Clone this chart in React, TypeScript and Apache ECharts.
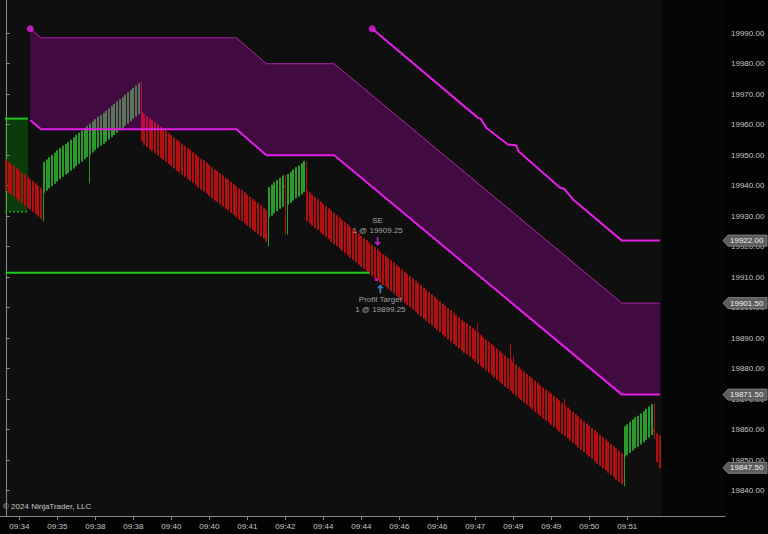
import React, { useEffect, useRef } from 'react';
import * as echarts from 'echarts';

// ---- time axis (tick labels sit on every 14th bar, starting at bar 5)
const xTickLabels = ['09:34', '09:35', '09:38', '09:38', '09:40', '09:40', '09:41', '09:42', '09:44', '09:44', '09:46', '09:46', '09:47', '09:49', '09:49', '09:50', '09:51'];
const firstTickBar = 5;
const barsPerTick = 14;

// ---- price axis ticks
const yTicks = [19840, 19850, 19860, 19870, 19880, 19890, 19900, 19910, 19920, 19930, 19940, 19950, 19960, 19970, 19980, 19990];

// ---- range bars as [open, close], by leg
const legDown1 = [[19948.5, 19938.5], [19947.75, 19937.75], [19947, 19937.25], [19946.5, 19936.5], [19945.75, 19935.75], [19945, 19935], [19944.25, 19934.25], [19943.5, 19933.5], [19942.75, 19932.75], [19942, 19932.25], [19941.5, 19931.5], [19940.75, 19930.75], [19940, 19930], [19939.25, 19929.25]];
const legUp1 = [
  [19937.75, 19947.75], [19938.5, 19948.5], [19939.25, 19949.25], [19940, 19950], [19940.75, 19950.75], [19941.5, 19951.5], [19942.25, 19952.25], [19943, 19953], [19943.75, 19953.5], [19944.25, 19954.25],
  [19945, 19955], [19945.75, 19955.75], [19946.5, 19956.5], [19947.25, 19957.25], [19948, 19958], [19948.75, 19958.75], [19949.5, 19959.5], [19950.25, 19960.25], [19951, 19961], [19951.75, 19961.75],
  [19952.5, 19962.5], [19953.25, 19963], [19953.75, 19963.75], [19954.5, 19964.5], [19955.25, 19965.25], [19956, 19966], [19956.75, 19966.75], [19957.5, 19967.5], [19958.25, 19968.25], [19959, 19969],
  [19959.75, 19969.75], [19960.5, 19970.5], [19961.25, 19971.25], [19962, 19972], [19962.75, 19972.75], [19963.5, 19973.5]];
const legDown2 = [
  [19964.25, 19954.75], [19963.5, 19953.5], [19962.75, 19952.75], [19962, 19952], [19961.5, 19951.5], [19960.75, 19950.75], [19960, 19950], [19959.25, 19949.25], [19958.5, 19948.5], [19958, 19948],
  [19957.25, 19947.25], [19956.5, 19946.5], [19955.75, 19945.75], [19955, 19945], [19954.5, 19944.5], [19953.75, 19943.75], [19953, 19943], [19952.25, 19942.25], [19951.75, 19941.75], [19951, 19941],
  [19950.25, 19940.25], [19949.5, 19939.5], [19948.75, 19938.75], [19948.25, 19938.25], [19947.5, 19937.5], [19946.75, 19936.75], [19946, 19936], [19945.25, 19935.25], [19944.75, 19934.75], [19944, 19934],
  [19943.25, 19933.25], [19942.5, 19932.5], [19942, 19932], [19941.25, 19931.25], [19940.5, 19930.5], [19939.75, 19929.75], [19939, 19929], [19938.5, 19928.5], [19937.75, 19927.75], [19937, 19927],
  [19936.25, 19926.25], [19935.5, 19925.5], [19935, 19925], [19934.25, 19924.25], [19933.5, 19923.5], [19932.75, 19922.75], [19932, 19921.75]];
const legUp2 = [[19929.75, 19939.5], [19930.25, 19940.25], [19931, 19941], [19931.75, 19941.75], [19932.5, 19942.5], [19933.25, 19943.25], [19940, 19939.5], [19933.75, 19943.75], [19934.5, 19944.5], [19935.25, 19945.25], [19936, 19946], [19936.5, 19946.5], [19937.25, 19947.25], [19938, 19948]];
const legDown3 = [
  [19938.5, 19928.5], [19937.75, 19927.75], [19937, 19927], [19936.25, 19926.25], [19935.5, 19925.5], [19934.75, 19924.75], [19934, 19924], [19933.25, 19923.25], [19932.5, 19922.5], [19931.75, 19921.75],
  [19931, 19921], [19930.25, 19920.25], [19929.5, 19919.5], [19928.75, 19918.75], [19928, 19918], [19927.25, 19917.25], [19926.5, 19916.5], [19925.75, 19915.75], [19925, 19915], [19924.25, 19914.25],
  [19923.5, 19913.5], [19922.75, 19912.75], [19922, 19912], [19921.25, 19911.25], [19920.5, 19910.5], [19919.75, 19909.75], [19919, 19909], [19918.25, 19908.25], [19917.5, 19907.5], [19917, 19907],
  [19916.25, 19906.25], [19915.5, 19905.5], [19914.75, 19904.75], [19914, 19904], [19913.25, 19903.25], [19912.5, 19902.5], [19911.75, 19901.75], [19911, 19901], [19910.25, 19900.25], [19909.5, 19899.5],
  [19908.75, 19898.75], [19908, 19898], [19907.25, 19897.25], [19906.5, 19896.5], [19905.75, 19895.75], [19905, 19895], [19904.25, 19894.25], [19903.5, 19893.5], [19902.75, 19892.75], [19902, 19892],
  [19901.25, 19891.25], [19900.5, 19890.5], [19899.75, 19889.75], [19899, 19889], [19898.25, 19888.25], [19897.5, 19887.5], [19896.75, 19886.75], [19896, 19886], [19895.25, 19885.25], [19894.75, 19884.75],
  [19894, 19884], [19893.25, 19883.25], [19892.5, 19882.5], [19891.75, 19881.75], [19891, 19881], [19890.25, 19880.25], [19889.5, 19879.5], [19888.75, 19878.75], [19888, 19878], [19887.25, 19877.25],
  [19886.5, 19876.5], [19885.75, 19875.75], [19885, 19875], [19884.25, 19874.25], [19883.5, 19873.5], [19882.75, 19872.75], [19882, 19872], [19881.25, 19871.25], [19880.5, 19870.5], [19879.75, 19869.75],
  [19879, 19869], [19878.25, 19868.25], [19877.5, 19867.5], [19876.75, 19866.75], [19876, 19866], [19875.25, 19865.25], [19874.5, 19864.5], [19873.75, 19863.75], [19873, 19863], [19872.5, 19862.5],
  [19871.75, 19861.75], [19871, 19861], [19870.25, 19860.25], [19869.5, 19859.5], [19868.75, 19858.75], [19868, 19858], [19867.25, 19857.25], [19866.5, 19856.5], [19865.75, 19855.75], [19865, 19855],
  [19864.25, 19854.25], [19863.5, 19853.5], [19862.75, 19852.75], [19862, 19852], [19861.25, 19851.25], [19860.5, 19850.5], [19859.75, 19849.75], [19859, 19849], [19858.25, 19848.25], [19857.5, 19847.5],
  [19856.75, 19846.75], [19856, 19846], [19855.25, 19845.25], [19854.5, 19844.5], [19853.75, 19843.75], [19853, 19843], [19852.25, 19842.25]];
const legUp3 = [[19851.25, 19861], [19851.75, 19861.75], [19852.5, 19862.5], [19853.25, 19863.25], [19854, 19864], [19854.5, 19864.5], [19855.25, 19865.25], [19856, 19866], [19856.75, 19866.75], [19857.5, 19867.5], [19858.25, 19868.25]];
const legDown4 = [[19860, 19859.25], [19858.75, 19849.5], [19858, 19847.5]];

// ---- wicks beyond the body: [bar, low, high]
const wicks = [
  [14, 19928.25, 19947.75], [31, 19940.75, 19960.25], [50, 19954.75, 19974.25], [97, 19920, 19939.5],
  [103, 19924, 19943.5], [104, 19924, 19943.75], [111, 19928.5, 19947.75], [174, 19881.75, 19895],
  [186, 19872.75, 19888.25], [187, 19872, 19884.25], [206, 19858, 19870.25], [228, 19841.5, 19861], [239, 19857, 19868.5]];

// ---- indicator lines [bar, price]
const lowerBand = [[9, 19961.5], [13, 19958.5], [85, 19958.5], [96, 19950], [121, 19950], [227, 19871.5], [241, 19871.5]];
const upperBand = [[9, 19991.5], [13, 19988.5], [85, 19988.5], [96, 19980], [121, 19980], [227, 19901.5], [241, 19901.5]];
const trailStop = [[135, 19991.5], [174, 19962.25], [175, 19962], [177, 19959], [185, 19953.5], [188, 19953.25], [189, 19951.25], [204, 19939.5], [206, 19938.75], [209, 19935.5], [227, 19922], [241, 19922]];
const lineStarts = [[9, 19991.5], [135, 19991.5]];
const targetLine = [[0, 19911.5], [134, 19911.5]];
const zoneBars = [-0.3, 8.2];
const zonePrices = [19962, 19931.5];

// ---- executions
const seSignal = { bar: 137, arrowPrice: 19921.75, name: 'SE', qty: 1, price: 19909.25 };
const fillMark = [136.5, 19909.25];
const ptSignal = { bar: 138, arrowPrice: 19906.25, name: 'Profit Target', qty: 1, price: 19899.25 };

// ---- right-edge price markers
const lastValues = [19922, 19901.5, 19871.5, 19847.5];
const emptyZoneStart = 241.7;

const FONT = 'Liberation Sans, Arial, sans-serif';

export default function App() {
  const ref = useRef<HTMLDivElement>(null);
  useEffect(() => {
    if (!ref.current) return;
    const chart = echarts.init(ref.current, null, { renderer: 'svg' });
    const bars = [...legDown1, ...legUp1, ...legDown2, ...legUp2, ...legDown3, ...legUp3, ...legDown4];
    const wickMap: Record<number, number[]> = {};
    wicks.forEach((w) => { wickMap[w[0]] = [w[1], w[2]]; });
    const candleData = bars.map((b, i) => {
      const o = b[0], c = b[1];
      let lo = Math.min(o, c), hi = Math.max(o, c);
      const w = wickMap[i];
      if (w) { lo = Math.min(lo, w[0]); hi = Math.max(hi, w[1]); }
      return [i, o, c, lo, hi];
    });
    const tickBars = xTickLabels.map((_, k) => firstTickBar + k * barsPerTick);
    const xMin = -2.14, xMax = 265;
    const gray = '#8a8a8a';
    const mag = '#e41ee4';

    chart.setOption({
      animation: false,
      backgroundColor: '#030303',
      textStyle: { fontFamily: FONT },
      grid: { left: 0, right: 43, top: 0, bottom: 18, show: true, backgroundColor: '#0f0f0f', borderWidth: 0, outerBoundsMode: 'none' },
      xAxis: {
        type: 'value', min: xMin, max: xMax,
        axisLine: { show: true, lineStyle: { color: gray } },
        axisTick: { show: true, customValues: tickBars, length: 4, lineStyle: { color: gray } },
        axisLabel: { customValues: tickBars, formatter: (v: number) => xTickLabels[tickBars.indexOf(v)] ?? '', color: '#c4c4c4', fontSize: 8, margin: 6, fontFamily: FONT },
        splitLine: { show: false },
      },
      yAxis: {
        type: 'value', position: 'right', min: 19831.7, max: 20000.9, scale: true,
        axisLine: { show: true, lineStyle: { color: gray } },
        axisTick: { show: true, customValues: yTicks, length: 4, lineStyle: { color: gray } },
        axisLabel: { customValues: yTicks, formatter: (v: number) => v.toFixed(2), color: '#c4c4c4', fontSize: 8, margin: 6, fontFamily: FONT },
        splitLine: { show: false },
      },
      series: [
        {
          type: 'candlestick', z: 2, silent: true,
          dimensions: ['x', 'open', 'close', 'lowest', 'highest'],
          encode: { x: 'x', y: ['open', 'close', 'lowest', 'highest'] },
          data: candleData, barWidth: 1.5,
          itemStyle: { color: '#2a9a2a', color0: '#b21010', borderColor: '#2a9a2a', borderColor0: '#b21010', borderWidth: 1 },
          markArea: { silent: true, itemStyle: { color: '#050505' }, data: [[{ xAxis: emptyZoneStart }, { xAxis: xMax }]] },
        },
        {
          type: 'custom', z: 3, silent: true, clip: true,
          data: [[upperBand[0][0], upperBand[0][1]]],
          encode: { x: 0, y: 1 },
          renderItem: (_params: any, api: any) => {
            const pts = upperBand.map((p) => api.coord(p)).concat(lowerBand.slice().reverse().map((p) => api.coord(p)));
            return { type: 'polygon', shape: { points: pts }, style: { fill: 'rgba(235,0,235,0.23)' } };
          },
        },
        { type: 'line', z: 4, silent: true, data: upperBand, symbol: 'none', lineStyle: { color: 'rgba(190,40,190,0.9)', width: 1 } },
        { type: 'line', z: 4, silent: true, data: lowerBand, symbol: 'none', lineStyle: { color: mag, width: 2 } },
        { type: 'line', z: 4, silent: true, data: trailStop, symbol: 'none', lineStyle: { color: mag, width: 2 } },
        { type: 'scatter', z: 5, silent: true, data: lineStarts, symbol: 'circle', symbolSize: 7, itemStyle: { color: mag } },
        { type: 'line', z: 4, silent: true, data: targetLine, symbol: 'none', lineStyle: { color: '#22c822', width: 2 } },
        {
          type: 'line', z: 4, silent: true, data: [[zoneBars[0], zonePrices[0]], [zoneBars[1], zonePrices[0]]], symbol: 'none',
          lineStyle: { color: '#22c022', width: 2 },
          markArea: { silent: true, itemStyle: { color: 'rgba(0,190,0,0.25)' }, data: [[{ coord: [zoneBars[0], zonePrices[0]] }, { coord: [zoneBars[1], zonePrices[1]] }]] },
        },
        { type: 'line', z: 4, silent: true, data: [[zoneBars[0], zonePrices[1]], [zoneBars[1], zonePrices[1]]], symbol: 'none', lineStyle: { color: '#1fa01f', width: 1.5, type: [2, 2] } },
        { type: 'scatter', z: 5, silent: true, data: [fillMark], symbol: 'rect', symbolSize: [3, 3], itemStyle: { color: mag } },
        {
          type: 'scatter', z: 6, silent: true, data: [[seSignal.bar, seSignal.arrowPrice]],
          symbol: 'path://M3,0 L5,0 L5,5 L8,5 L4,9 L0,5 L3,5 Z', symbolSize: [7, 9], itemStyle: { color: mag },
          label: { show: true, position: 'top', distance: 1, formatter: `${seSignal.name}\n${seSignal.qty} @ ${seSignal.price.toFixed(2)}`, color: '#c8c8c8', fontSize: 8, lineHeight: 10, align: 'center', fontFamily: FONT },
        },
        {
          type: 'scatter', z: 6, silent: true, data: [[ptSignal.bar, ptSignal.arrowPrice]],
          symbol: 'path://M4,0 L8,4 L5,4 L5,9 L3,9 L3,4 L0,4 Z', symbolSize: [7, 9], itemStyle: { color: '#3a9cf0' },
          label: { show: true, position: 'bottom', distance: 1, formatter: `${ptSignal.name}\n${ptSignal.qty} @ ${ptSignal.price.toFixed(2)}`, color: '#c8c8c8', fontSize: 8, lineHeight: 10, align: 'center', fontFamily: FONT },
        },
      ],
    });

    const graphics: any[] = [
      { type: 'text', left: 3, top: 502, silent: true, style: { text: '© 2024 NinjaTrader, LLC', fill: '#c8c8c8', font: `8px ${FONT}` } },
      { type: 'polyline', silent: true, shape: { points: [[699, 16], [716, 16]] }, style: { stroke: '#e8e8e8', lineWidth: 1.5, fill: null } },
      { type: 'polyline', silent: true, shape: { points: [[710, 10], [716, 16], [710, 22]] }, style: { stroke: '#e8e8e8', lineWidth: 1.5, fill: null } },
    ];
    lastValues.forEach((v) => {
      const y = chart.convertToPixel({ yAxisIndex: 0 }, v) as number;
      graphics.push({
        type: 'polygon', silent: true, z: 100,
        shape: { points: [[723, y], [728, y - 5.5], [767, y - 5.5], [767, y + 5.5], [728, y + 5.5]] },
        style: { fill: '#5c5c5c', stroke: '#7e7e7e', lineWidth: 1 },
      });
      graphics.push({
        type: 'text', silent: true, z: 101, x: 730, y,
        style: { text: v.toFixed(2), fill: '#f0f0f0', font: `8px ${FONT}`, verticalAlign: 'middle', align: 'left' },
      });
    });
    chart.setOption({ graphic: graphics });

    return () => chart.dispose();
  }, []);
  return <div ref={ref} style={{ position: 'fixed', left: 0, top: 0, width: 768, height: 534, background: '#030303' }} />;
}
